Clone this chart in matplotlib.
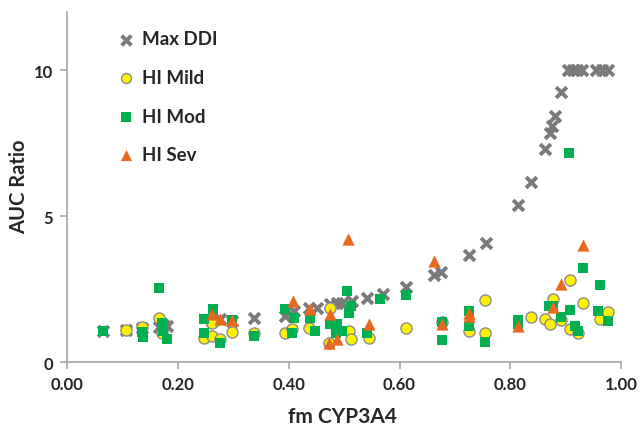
import matplotlib
matplotlib.use("Agg")
import matplotlib.pyplot as plt

plt.rcParams['font.family'] = ['Lato', 'DejaVu Sans']

# Max DDI
ddi_fm = [0.064, 0.106, 0.135, 0.166, 0.174, 0.180, 0.262, 0.276, 0.298, 0.337,
          0.394, 0.409, 0.436, 0.451, 0.475, 0.488, 0.497, 0.515, 0.542, 0.570,
          0.611, 0.662, 0.675, 0.726, 0.756, 0.813, 0.837, 0.863, 0.872, 0.875,
          0.881, 0.892, 0.905, 0.913, 0.920, 0.930, 0.955, 0.965, 0.976]
ddi_auc = [1.08, 1.12, 1.18, 1.22, 1.28, 1.25, 1.40, 1.48, 1.42, 1.52,
           1.59, 1.76, 1.87, 1.87, 1.99, 2.03, 2.03, 2.10, 2.22, 2.33,
           2.59, 2.98, 3.09, 3.66, 4.09, 5.37, 6.17, 7.31, 7.86, 8.09,
           8.44, 9.26, 10, 10, 10, 10, 10, 10, 10]

# HI Mild
mild_fm = [0.106, 0.136, 0.165, 0.172, 0.247, 0.261, 0.261, 0.276, 0.298, 0.337,
           0.394, 0.406, 0.436, 0.475, 0.472, 0.509, 0.513, 0.545, 0.611, 0.676,
           0.725, 0.755, 0.755, 0.837, 0.863, 0.872, 0.877, 0.892, 0.907, 0.907,
           0.922, 0.931, 0.962, 0.976]
mild_auc = [1.10, 1.20, 1.51, 1.00, 0.85, 1.36, 0.91, 0.79, 1.04, 1.02,
            1.02, 1.14, 1.19, 1.87, 0.68, 1.08, 0.79, 0.84, 1.16, 1.38,
            1.08, 2.12, 1.00, 1.56, 1.50, 1.33, 2.16, 1.45, 2.82, 1.14,
            1.00, 2.02, 1.48, 1.73]

# HI Mod
mod_fm = [0.064, 0.135, 0.137, 0.166, 0.171, 0.174, 0.180, 0.247, 0.247, 0.263,
          0.276, 0.298, 0.337, 0.394, 0.409, 0.406, 0.439, 0.448, 0.506, 0.513,
          0.508, 0.474, 0.488, 0.497, 0.485, 0.542, 0.564, 0.611, 0.676, 0.676,
          0.725, 0.725, 0.755, 0.813, 0.813, 0.869, 0.877, 0.892, 0.906, 0.908,
          0.917, 0.922, 0.931, 0.958, 0.962, 0.976]
mod_auc = [1.08, 1.05, 0.88, 2.53, 1.36, 1.08, 0.79, 1.48, 1.02, 1.84,
           0.68, 1.44, 0.91, 1.82, 1.53, 1.02, 1.53, 1.08, 2.44, 1.93,
           1.70, 1.31, 1.31, 1.08, 1.02, 1.02, 2.18, 2.30, 1.38, 0.77,
           1.76, 1.25, 0.70, 1.45, 1.30, 1.93, 1.93, 1.57, 7.18, 1.79,
           1.23, 1.08, 3.22, 1.76, 2.64, 1.42]

# HI Sev
sev_fm = [0.261, 0.276, 0.298, 0.408, 0.439, 0.475, 0.472, 0.488, 0.507, 0.545,
          0.662, 0.676, 0.725, 0.725, 0.813, 0.877, 0.892, 0.931]
sev_auc = [1.65, 1.48, 1.45, 2.10, 1.82, 1.65, 0.68, 0.79, 4.23, 1.31,
           3.46, 1.33, 1.70, 1.59, 1.25, 1.90, 2.67, 4.03]

fig = plt.figure(figsize=(6.39, 4.27), dpi=100)
ax = fig.add_axes([0.105, 0.149, 0.867, 0.821])

ax.scatter(ddi_fm, ddi_auc, marker='x', s=60, color='#7a7a7a', linewidths=2.8,
           label='Max DDI', zorder=2)
ax.scatter(mild_fm, mild_auc, marker='o', s=64, color='#fff200', edgecolors='#8c8c8c',
           linewidths=1.0, label='HI Mild', zorder=3)
ax.scatter(mod_fm, mod_auc, marker='s', s=60, color='#00b050', linewidths=0,
           label='HI Mod', zorder=4)
ax.scatter(sev_fm, sev_auc, marker='^', s=78, color='#e8691e', linewidths=0,
           label='HI Sev', zorder=5)

ax.set_xlim(0, 1)
ax.set_ylim(0, 12)
ax.set_xticks([0, 0.2, 0.4, 0.6, 0.8, 1.0])
ax.set_xticklabels(['0.00', '0.20', '0.40', '0.60', '0.80', '1.00'])
ax.set_yticks([0, 5, 10])

for side in ['top', 'right']:
    ax.spines[side].set_visible(False)
for side in ['left', 'bottom']:
    ax.spines[side].set_color('#a6a6a6')
    ax.spines[side].set_linewidth(1.2)
ax.tick_params(direction='out', length=5, width=1.2, color='#a6a6a6',
               labelsize=12, labelcolor='#262626', pad=5)
for lbl in ax.get_xticklabels() + ax.get_yticklabels():
    lbl.set_fontweight('bold')

ax.set_xlabel('fm CYP3A4', fontsize=15, fontweight='bold', color='#262626')
ax.xaxis.set_label_coords(0.497, -0.125)
ax.set_ylabel('AUC Ratio', fontsize=14.5, fontweight='bold', color='#262626')
ax.yaxis.set_label_coords(-0.068, 0.505)

leg = ax.legend(loc='upper left', bbox_to_anchor=(0.055, 0.995), frameon=False,
                prop={'size': 13.5, 'weight': 'bold'}, labelspacing=1.15,
                handletextpad=0.25, markerscale=0.9, handlelength=1.2)
for t in leg.get_texts():
    t.set_color('#262626')

fig.savefig('out.png', dpi=100)
